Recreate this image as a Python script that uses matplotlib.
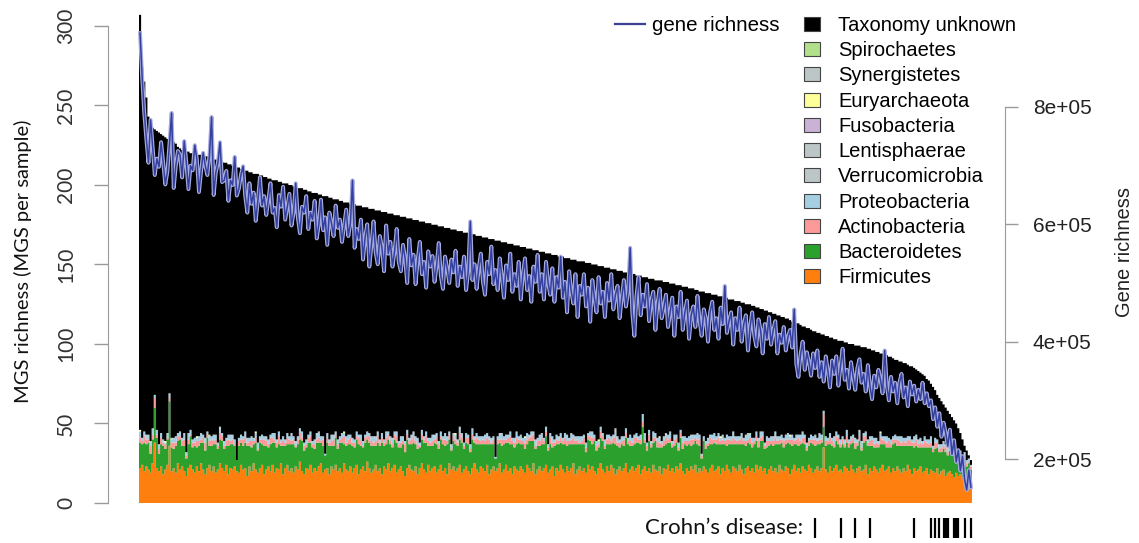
import numpy as np
import matplotlib
matplotlib.use("Agg")
import matplotlib.pyplot as plt
from matplotlib.patches import Patch
from matplotlib.lines import Line2D

# MGS richness per sample (samples sorted by richness)
total_mgs = [
    307, 274, 265, 255, 243, 238, 236, 235, 234, 233,
    232, 231, 230, 229, 229, 228, 227, 226, 224, 223,
    222, 221, 221, 221, 220, 220, 220, 219, 219, 219,
    219, 218, 218, 217, 217, 216, 216, 216, 215, 215,
    214, 214, 213, 213, 212, 212, 211, 211, 210, 210,
    209, 209, 208, 208, 207, 207, 207, 206, 206, 205,
    205, 204, 204, 203, 203, 203, 202, 202, 201, 201,
    201, 200, 200, 199, 199, 198, 198, 198, 197, 197,
    196, 196, 195, 195, 195, 194, 194, 193, 193, 193,
    192, 192, 191, 191, 191, 190, 190, 189, 189, 189,
    188, 188, 188, 187, 187, 187, 186, 186, 186, 185,
    185, 185, 184, 184, 184, 183, 183, 183, 182, 182,
    182, 181, 181, 181, 180, 180, 180, 179, 179, 179,
    178, 178, 178, 177, 177, 177, 176, 176, 176, 175,
    175, 175, 174, 174, 174, 173, 173, 173, 172, 172,
    172, 171, 171, 171, 170, 170, 170, 169, 169, 169,
    168, 168, 168, 167, 167, 167, 166, 166, 166, 165,
    165, 165, 164, 164, 164, 163, 163, 163, 162, 162,
    162, 161, 161, 161, 160, 160, 160, 159, 159, 159,
    158, 158, 158, 157, 157, 157, 156, 156, 156, 155,
    155, 155, 154, 154, 154, 153, 153, 153, 152, 152,
    152, 152, 151, 151, 151, 150, 150, 150, 149, 149,
    149, 148, 148, 148, 147, 147, 147, 146, 146, 146,
    145, 145, 145, 144, 144, 144, 143, 143, 143, 142,
    142, 142, 141, 141, 141, 140, 140, 140, 140, 139,
    139, 139, 138, 138, 138, 137, 137, 137, 136, 136,
    136, 135, 135, 135, 134, 134, 133, 133, 133, 132,
    132, 132, 131, 131, 131, 130, 130, 130, 129, 129,
    128, 128, 128, 127, 127, 127, 126, 126, 125, 125,
    125, 124, 124, 123, 123, 122, 122, 121, 121, 120,
    120, 119, 119, 118, 118, 117, 117, 116, 116, 115,
    114, 114, 113, 113, 112, 111, 111, 110, 110, 109,
    108, 108, 107, 107, 106, 106, 105, 105, 104, 104,
    103, 103, 102, 102, 102, 101, 101, 100, 100, 100,
    99, 99, 99, 98, 98, 98, 97, 97, 96, 96,
    95, 95, 94, 94, 93, 93, 92, 92, 91, 90,
    90, 89, 89, 88, 88, 87, 86, 86, 85, 84,
    83, 82, 81, 80, 78, 77, 75, 73, 71, 68,
    66, 64, 62, 60, 58, 56, 54, 52, 50, 47,
    44, 40, 36, 33, 30, 27,
]

firmicutes = [
    22, 24, 20, 23, 21, 19, 25, 38, 22, 20,
    23, 18, 21, 24, 36, 20, 22, 19, 25, 21,
    23, 20, 17, 22, 24, 21, 19, 23, 20, 25,
    21, 18, 22, 24, 20, 23, 19, 21, 25, 22,
    20, 24, 18, 22, 21, 23, 20, 19, 24, 21,
    22, 17, 23, 20, 25, 21, 19, 22, 24, 18,
    21, 23, 20, 24, 19, 22, 21, 25, 18, 22,
    24, 20, 22, 19, 23, 21, 26, 20, 18, 22,
    21, 24, 19, 22, 20, 23, 25, 19, 21, 22,
    18, 23, 21, 24, 20, 22, 19, 25, 21, 20,
    23, 19, 22, 24, 18, 21, 23, 20, 26, 22,
    19, 21, 24, 20, 22, 18, 23, 21, 25, 20,
    22, 24, 19, 21, 23, 20, 17, 22, 24, 21,
    20, 23, 18, 22, 25, 21, 19, 24, 20, 22,
    23, 19, 21, 24, 20, 22, 18, 25, 21, 23,
    20, 22, 24, 19, 21, 23, 20, 18, 22, 25,
    21, 19, 23, 22, 20, 24, 18, 21, 23, 20,
    22, 25, 19, 21, 24, 20, 22, 18, 23, 21,
    20, 23, 21, 19, 24, 22, 20, 25, 18, 21,
    23, 20, 22, 24, 19, 21, 23, 17, 22, 20,
    24, 21, 19, 23, 20, 22, 25, 18, 21, 23,
    20, 22, 19, 24, 21, 23, 20, 18, 22, 25,
    21, 19, 23, 20, 24, 22, 18, 21, 23, 20,
    22, 25, 19, 21, 23, 20, 22, 24, 18, 21,
    23, 20, 22, 19, 24, 21, 20, 23, 18, 22,
    21, 24, 20, 22, 19, 23, 21, 25, 20, 18,
    22, 20, 23, 21, 24, 19, 22, 20, 23, 21,
    19, 22, 24, 20, 21, 23, 18, 22, 20, 24,
    21, 19, 23, 22, 20, 24, 21, 18, 22, 23,
    20, 22, 19, 24, 21, 23, 20, 22, 18, 21,
    23, 20, 22, 19, 24, 21, 20, 23, 22, 18,
    21, 24, 20, 22, 19, 23, 21, 20, 24, 22,
    19, 21, 23, 20, 22, 35, 21, 19, 23, 20,
    22, 24, 20, 21, 19, 23, 22, 20, 24, 21,
    19, 22, 23, 20, 21, 24, 18, 22, 20, 23,
    21, 19, 22, 24, 20, 21, 23, 19, 22, 20,
    23, 21, 19, 22, 20, 24, 21, 18, 22, 20,
    21, 23, 19, 20, 22, 18, 21, 20, 19, 22,
    18, 20, 21, 17, 19, 20, 18, 16, 19, 17,
    18, 16, 17, 15, 16, 14,
]

bacteroidetes = [
    16, 13, 18, 14, 17, 12, 15, 22, 19, 11,
    14, 18, 13, 16, 28, 15, 12, 17, 14, 19,
    13, 16, 11, 15, 18, 14, 17, 12, 16, 13,
    17, 15, 19, 12, 16, 14, 18, 13, 15, 17,
    14, 12, 18, 15, 16, 13, 7, 17, 14, 15,
    16, 19, 13, 15, 12, 17, 14, 16, 13, 18,
    15, 12, 17, 14, 19, 13, 16, 11, 18, 14,
    13, 17, 15, 18, 12, 16, 14, 19, 15, 13,
    17, 14, 16, 12, 18, 15, 13, 17, 9, 16,
    18, 13, 15, 17, 14, 16, 19, 12, 15, 17,
    14, 17, 13, 16, 19, 15, 12, 18, 14, 16,
    17, 15, 12, 18, 14, 20, 13, 16, 15, 17,
    13, 16, 19, 14, 12, 17, 15, 18, 13, 16,
    18, 14, 16, 13, 15, 17, 19, 12, 16, 14,
    15, 18, 13, 16, 17, 14, 19, 15, 12, 16,
    17, 14, 16, 19, 13, 15, 17, 14, 18, 13,
    16, 18, 14, 15, 17, 13, 19, 16, 14, 8,
    15, 13, 17, 16, 14, 18, 15, 19, 12, 16,
    18, 14, 16, 15, 13, 17, 19, 14, 16, 15,
    13, 17, 15, 18, 14, 16, 12, 19, 15, 17,
    14, 16, 18, 13, 17, 15, 12, 19, 16, 14,
    17, 15, 13, 16, 18, 14, 19, 15, 13, 16,
    18, 15, 14, 17, 13, 16, 19, 15, 12, 17,
    14, 16, 18, 15, 13, 17, 16, 14, 19, 27,
    15, 13, 17, 16, 14, 18, 15, 12, 17, 14,
    16, 14, 18, 13, 17, 15, 12, 16, 14, 19,
    14, 17, 13, 16, 15, 18, 14, 8, 16, 13,
    17, 15, 13, 18, 16, 14, 19, 15, 17, 12,
    16, 18, 14, 15, 17, 13, 16, 19, 14, 15,
    17, 13, 18, 15, 14, 16, 19, 12, 17, 15,
    14, 16, 15, 18, 13, 17, 15, 14, 16, 19,
    15, 13, 17, 14, 18, 15, 16, 13, 12, 16,
    18, 15, 14, 17, 16, 13, 15, 18, 14, 16,
    13, 15, 17, 14, 18, 12, 16, 15, 13, 17,
    15, 14, 16, 13, 17, 15, 18, 14, 16, 12,
    14, 16, 15, 13, 17, 14, 12, 16, 15, 18,
    13, 15, 17, 14, 16, 12, 15, 18, 13, 16,
    14, 12, 16, 15, 13, 17, 14, 12, 15, 13,
    14, 12, 13, 15, 11, 13, 12, 14, 10, 12,
    11, 9, 10, 8, 9, 7,
]

actinobacteria = [
    3, 2, 4, 3, 2, 5, 3, 6, 2, 3, 4, 2, 3, 1, 2, 3, 4, 2, 3, 2,
    3, 4, 2, 3, 1, 3, 2, 4, 3, 2, 3, 5, 2, 3, 4, 2, 3, 2, 4, 3,
    2, 3, 4, 2, 3, 1, 0, 3, 2, 4, 3, 2, 3, 4, 2, 3, 1, 2, 3, 4,
    3, 2, 4, 3, 2, 3, 5, 2, 3, 2, 4, 3, 2, 3, 1, 3, 4, 2, 3, 2,
    3, 4, 2, 3, 2, 3, 1, 4, 0, 3, 2, 3, 4, 2, 3, 2, 3, 5, 2, 3,
    4, 2, 3, 2, 4, 3, 1, 3, 2, 4, 3, 2, 3, 4, 2, 3, 2, 4, 3, 2,
    2, 3, 4, 2, 3, 2, 5, 3, 2, 3, 4, 2, 3, 1, 3, 2, 4, 3, 2, 3,
    2, 4, 3, 2, 3, 4, 2, 3, 1, 3, 3, 2, 4, 3, 2, 3, 4, 2, 3, 2,
    4, 3, 2, 3, 2, 4, 3, 1, 3, 0, 3, 2, 4, 3, 2, 3, 5, 2, 3, 4,
    2, 3, 2, 4, 3, 2, 3, 4, 2, 3, 3, 4, 2, 3, 2, 4, 3, 2, 3, 2,
    3, 2, 4, 3, 2, 3, 4, 2, 3, 1, 2, 4, 3, 2, 3, 4, 2, 3, 2, 4,
    3, 2, 3, 4, 2, 3, 5, 2, 3, 2, 4, 3, 2, 3, 2, 4, 3, 2, 3, 3,
    2, 3, 4, 2, 3, 2, 4, 3, 2, 3, 4, 2, 3, 2, 4, 3, 2, 3, 4, 2,
    3, 2, 4, 3, 2, 3, 4, 2, 0, 3, 2, 4, 3, 2, 3, 4, 2, 3, 2, 4,
    3, 2, 4, 3, 2, 3, 4, 2, 3, 2, 4, 3, 2, 3, 4, 2, 3, 2, 4, 3,
    2, 3, 4, 2, 3, 2, 4, 3, 2, 3, 4, 2, 3, 5, 2, 3, 4, 2, 3, 2,
    3, 4, 2, 3, 2, 8, 3, 2, 4, 3, 2, 3, 4, 2, 3, 2, 4, 3, 2, 3,
    4, 2, 3, 2, 4, 3, 2, 3, 4, 2, 3, 2, 4, 3, 2, 3, 4, 2, 3, 2,
    4, 3, 2, 3, 2, 4, 3, 2, 3, 4, 2, 3, 2, 4, 3, 2, 3, 2, 4, 3,
    2, 3, 2, 3, 2, 3, 2, 2, 3, 2, 2, 3, 2, 2, 1, 2,
]

proteobacteria = [
    4, 2, 3, 2, 3, 2, 4, 2, 3, 2, 3, 2, 1, 3, 3, 2, 3, 4, 2, 3,
    2, 3, 2, 4, 3, 2, 3, 2, 3, 4, 2, 3, 2, 3, 2, 4, 3, 2, 3, 2,
    3, 2, 3, 4, 2, 3, 0, 2, 3, 2, 4, 3, 2, 3, 2, 3, 4, 2, 3, 2,
    2, 3, 2, 3, 4, 2, 3, 2, 3, 2, 3, 2, 4, 2, 3, 2, 3, 4, 2, 3,
    2, 3, 2, 3, 4, 2, 3, 2, 1, 3, 2, 4, 3, 2, 3, 2, 3, 2, 4, 3,
    2, 3, 2, 3, 2, 4, 3, 2, 3, 2, 3, 4, 2, 3, 2, 3, 2, 4, 2, 3,
    3, 2, 3, 2, 4, 3, 2, 3, 2, 3, 2, 3, 4, 2, 3, 2, 3, 2, 3, 4,
    2, 3, 2, 3, 2, 4, 3, 2, 3, 2, 3, 2, 4, 3, 2, 3, 2, 3, 4, 2,
    3, 2, 3, 2, 4, 3, 2, 3, 2, 1, 2, 3, 4, 2, 3, 2, 3, 2, 3, 4,
    2, 3, 2, 3, 4, 2, 3, 2, 3, 2, 4, 3, 2, 3, 2, 3, 4, 2, 3, 2,
    3, 2, 3, 4, 2, 3, 2, 3, 2, 4, 3, 2, 3, 2, 3, 4, 2, 3, 2, 3,
    2, 4, 3, 2, 3, 2, 3, 4, 2, 3, 2, 3, 2, 4, 3, 2, 3, 2, 3, 5,
    3, 2, 3, 2, 4, 3, 2, 3, 2, 3, 2, 3, 4, 2, 3, 2, 3, 2, 4, 3,
    2, 3, 2, 3, 2, 4, 3, 1, 3, 2, 3, 2, 3, 4, 2, 3, 2, 3, 2, 3,
    2, 3, 4, 2, 3, 2, 3, 2, 3, 4, 2, 3, 2, 3, 2, 4, 3, 2, 3, 2,
    3, 2, 4, 3, 2, 3, 2, 3, 4, 2, 3, 2, 3, 2, 4, 3, 2, 3, 2, 3,
    2, 3, 2, 4, 3, 2, 3, 2, 3, 2, 4, 3, 2, 3, 2, 3, 4, 2, 3, 2,
    3, 2, 3, 4, 2, 3, 2, 3, 2, 4, 3, 2, 3, 2, 3, 4, 2, 3, 2, 3,
    2, 3, 4, 2, 3, 2, 3, 2, 4, 3, 2, 3, 2, 3, 2, 3, 4, 2, 3, 2,
    3, 2, 3, 2, 3, 2, 3, 2, 2, 3, 2, 2, 3, 2, 2, 1,
]

# rare phyla: {sample index: number of MGS}
verrucomicrobia = {3: 1, 9: 1, 21: 1, 38: 1, 60: 1, 85: 2, 112: 1, 140: 1, 171: 1,
                   199: 1, 226: 2, 250: 1, 288: 1, 315: 1, 342: 1, 370: 1}
lentisphaerae = {15: 1, 72: 1, 130: 1, 205: 1, 262: 1, 330: 1}
fusobacteria = {44: 1, 188: 1, 301: 1}
euryarchaeota = {0: 1, 12: 1, 27: 1, 55: 1, 97: 1, 150: 1, 183: 1, 218: 1, 247: 1,
                 276: 1, 309: 1, 352: 1}
synergistetes = {5: 1, 120: 1, 240: 1}
spirochaetes = {33: 1, 290: 1}

# gene richness, in thousands of genes
gene_richness_k = [
    926, 850, 790, 745, 705, 778, 730, 684, 712, 698,
    740, 705, 668, 690, 738, 790, 662, 700, 725, 718,
    680, 742, 705, 660, 700, 692, 735, 712, 655, 690,
    722, 700, 684, 718, 783, 650, 688, 705, 740, 672,
    675, 691, 640, 675, 667, 715, 649, 661, 685, 699,
    648, 620, 670, 635, 654, 606, 640, 680, 632, 648,
    616, 642, 670, 620, 628, 595, 650, 630, 664, 608,
    630, 652, 598, 620, 670, 612, 585, 630, 620, 648,
    592, 620, 608, 640, 576, 600, 642, 590, 612, 565,
    620, 602, 580, 632, 594, 608, 570, 598, 625, 580,
    602, 675, 560, 592, 575, 608, 540, 578, 600, 528,
    565, 605, 552, 532, 580, 560, 520, 598, 550, 570,
    528, 554, 592, 535, 520, 565, 542, 500, 575, 530,
    548, 498, 540, 570, 515, 536, 492, 554, 528, 546,
    502, 530, 568, 512, 490, 545, 525, 500, 540, 518,
    555, 495, 528, 510, 545, 488, 520, 605, 505, 532,
    490, 525, 550, 502, 480, 536, 515, 562, 498, 522,
    488, 542, 510, 475, 530, 505, 550, 485, 515, 495,
    536, 472, 515, 542, 488, 512, 468, 528, 502, 548,
    485, 515, 472, 536, 500, 480, 525, 468, 510, 492,
    545, 475, 502, 450, 520, 485, 465, 515, 442, 495,
    480, 515, 460, 492, 434, 505, 475, 450, 510, 465,
    485, 442, 500, 470, 515, 455, 480, 495, 440, 475,
    505, 460, 485, 560, 450, 410, 478, 510, 445, 480,
    460, 498, 435, 470, 485, 420, 465, 490, 440, 458,
    480, 425, 450, 475, 410, 460, 442, 485, 420, 450,
    470, 405, 445, 460, 425, 478, 435, 410, 455, 440,
    400, 450, 468, 420, 440, 405, 458, 430, 495, 415,
    435, 450, 395, 440, 420, 458, 400, 430, 445, 385,
    425, 450, 410, 392, 438, 420, 380, 430, 405, 442,
    395, 420, 435, 380, 412, 398, 425, 385, 408, 420,
    390, 455, 362, 340, 378, 400, 352, 382, 365, 342,
    380, 355, 385, 340, 365, 332, 375, 350, 322, 368,
    345, 375, 325, 358, 388, 335, 352, 320, 365, 340,
    318, 355, 370, 330, 345, 315, 360, 325, 302, 342,
    322, 352, 335, 312, 385, 325, 300, 340, 315, 330,
    295, 330, 345, 305, 322, 290, 332, 310, 325, 298,
    318, 302, 330, 295, 312, 290, 300, 268, 288, 255,
    278, 238, 262, 245, 222, 250, 208, 232, 195, 215,
    180, 205, 165, 147, 181, 152,
]

# samples from Crohn's disease patients
crohn_samples = [321, 333, 340, 347, 368, 376, 378, 380, 382, 383, 384,
                 387, 388, 389, 392, 395]

phyla = ['Firmicutes', 'Bacteroidetes', 'Actinobacteria', 'Proteobacteria',
         'Verrucomicrobia', 'Lentisphaerae', 'Fusobacteria', 'Euryarchaeota',
         'Synergistetes', 'Spirochaetes', 'Taxonomy unknown']
colors = ['#ff7f0e', '#2ca02c', '#fb9a99', '#a6cee3', '#bcc6c6', '#bcc6c6',
          '#cab2d6', '#ffff99', '#bcc6c6', '#b2df8a', '#000000']

n = len(total_mgs)
x = np.arange(n)
edges = np.arange(n + 1) - 0.5


def sparse(d):
    v = np.zeros(n)
    for k, c in d.items():
        v[k] = c
    return v


layers = [np.array(firmicutes, float), np.array(bacteroidetes, float),
          np.array(actinobacteria, float), np.array(proteobacteria, float),
          sparse(verrucomicrobia), sparse(lentisphaerae), sparse(fusobacteria),
          sparse(euryarchaeota), sparse(synergistetes), sparse(spirochaetes)]
layers.append(np.array(total_mgs, float) - np.sum(layers, axis=0))

sans = ['Liberation Sans', 'DejaVu Sans']
gill = ['Lato', 'DejaVu Sans']
plt.rcParams['font.family'] = sans

fig = plt.figure(figsize=(11.39, 5.43), dpi=100)
ax = fig.add_axes([108 / 1139, 21 / 543, 897 / 1139, 522 / 543])

# stacked bars, one step polygon per phylum
bottom = np.zeros(n)
for vals, col in zip(layers, colors):
    ax.stairs(bottom + vals, edges, baseline=bottom.copy(), fill=True,
              color=col, linewidth=0)
    bottom = bottom + vals

ax.set_xlim(-15.24, 411.2)
ax.set_ylim(-11.95, 316.35)
ax.set_xticks([])
for s in ['top', 'right', 'bottom']:
    ax.spines[s].set_visible(False)
ax.spines['left'].set_bounds(0, 300)
ax.spines['left'].set_color('#9a9a9a')
ax.set_yticks(range(0, 301, 50))
ax.tick_params(axis='y', colors='#9a9a9a', length=10, width=1, pad=13,
               labelcolor='#333333')
for lab in ax.get_yticklabels():
    lab.set_rotation(90)
    lab.set_va('center')
    lab.set_family(gill)
    lab.set_fontsize(15)
ax.set_ylabel('MGS richness (MGS per sample)', family=gill, fontsize=14.5,
              color='#111111')
ax.yaxis.set_label_coords(-0.085, 0.5)

# gene richness on the right axis
ax2 = ax.twinx()
ax2.set_position(ax.get_position())
gene = np.array(gene_richness_k) * 1000
ax2.plot(x, gene, color='#a7acdc', lw=2.8, solid_joinstyle='round')
ax2.plot(x, gene, color='#3340a0', lw=1.1, solid_joinstyle='round')
ax2.set_ylim(92617, 982382)
for s in ['top', 'left', 'bottom']:
    ax2.spines[s].set_visible(False)
ax2.spines['right'].set_bounds(2e5, 8e5)
ax2.spines['right'].set_color('#9a9a9a')
ax2.set_yticks([2e5, 4e5, 6e5, 8e5])
ax2.set_yticklabels(['2e+05', '4e+05', '6e+05', '8e+05'])
ax2.tick_params(axis='y', colors='#9a9a9a', length=9, width=1, pad=11,
                labelcolor='#222222', labelsize=15)
ax2.set_ylabel('Gene richness', fontsize=14.5, color='#222222', rotation=90)
ax2.yaxis.set_label_coords(1.1226, 0.517)

# Crohn's disease marks under the bars
ax.vlines(crohn_samples, -9.4, -22.0, color='black', lw=1.6, clip_on=False)
ax.text(315.2, -15.7, "Crohn\u2019s disease:", ha='right', va='center',
        family=gill, fontsize=16, color='#111111', clip_on=False)

# legends
fig.legend(handles=[Line2D([0], [0], color='#3b3f96', lw=1.6)],
           labels=['gene richness'], loc='upper left',
           bbox_to_anchor=(615 / 1139, 1 - 16 / 543), frameon=False,
           fontsize=14.8, handlelength=1.45, handletextpad=0.35,
           borderpad=0, borderaxespad=0)
handles = [Patch(facecolor=c, edgecolor='#444444', linewidth=0.8)
           for c in colors[::-1]]
fig.legend(handles=handles, labels=phyla[::-1], loc='upper left',
           bbox_to_anchor=(804 / 1139, 1 - 16 / 543), frameon=False,
           fontsize=14.5, handlelength=0.8, handleheight=0.7,
           handletextpad=0.9, labelspacing=0.31, borderpad=0, borderaxespad=0)

fig.savefig('out.png', dpi=100)
